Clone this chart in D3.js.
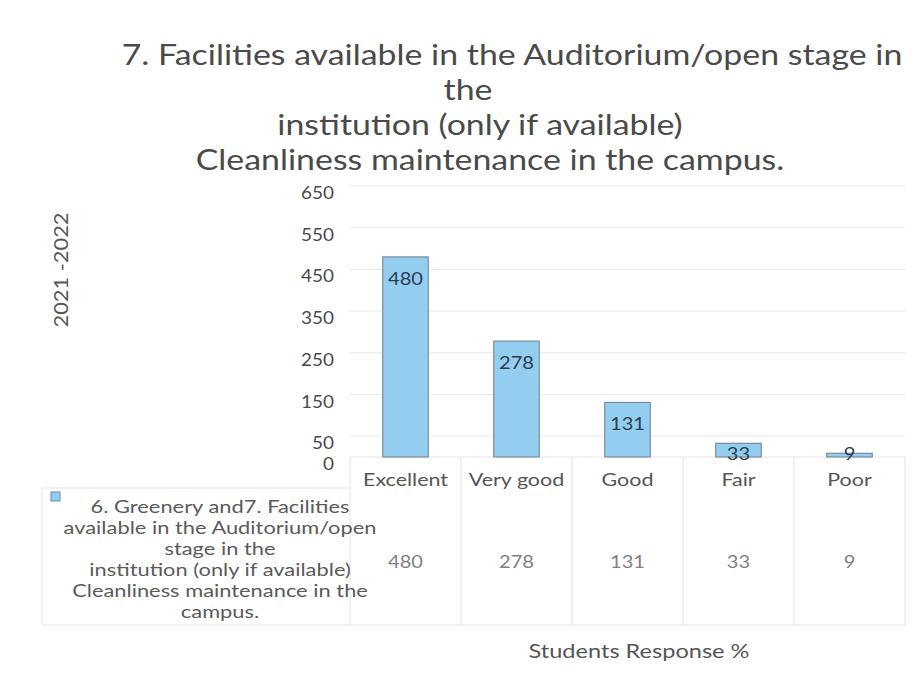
<!DOCTYPE html>
<html>
<head>
<meta charset="utf-8">
<script src="https://cdn.jsdelivr.net/npm/d3@7"></script>
<style>
  html, body { margin: 0; padding: 0; background: #fff; }
  svg { display: block; font-family: Lato, "Open Sans", sans-serif; }
</style>
</head>
<body>
<svg id="chart" width="919" height="674"></svg>
<script>
const titleLines = [
  "7. Facilities available in the Auditorium/open stage in",
  "the",
  "institution (only if available)",
  "Cleanliness maintenance in the campus."
];
const categories = ["Excellent", "Very good", "Good", "Fair", "Poor"];
const values = [480, 278, 131, 33, 9];
const tickValues = [0, 50, 150, 250, 350, 450, 550, 650];
const seriesName = [
  "6. Greenery and7. Facilities",
  "available in the Auditorium/open",
  "stage in the",
  "institution (only if available)",
  "Cleanliness maintenance in the",
  "campus."
];
const yAxisTitle = "2021 -2022";
const xAxisTitle = "Students Response %";

const svg = d3.select("#chart");
const textColor = "#4a4a4a";

// set font size, then widen the text horizontally so a reference text reaches a target width
function stretch(sel, size, refNode, target) {
  sel.attr("font-size", size);
  const sx = target / refNode.getComputedTextLength();
  sel.each(function () {
    const t = d3.select(this);
    const x = +t.attr("x") || 0, y = +t.attr("y") || 0;
    t.attr("x", 0).attr("y", 0).attr("transform", `translate(${x},${y}) scale(${sx},1)`);
  });
  return sx;
}

const plot = { left: 350, right: 905, top: 186, bottom: 457 };
const x = d3.scaleBand().domain(categories).range([plot.left, plot.right])
  .paddingInner(0.59).paddingOuter(0.295);
const y = d3.scaleLinear().domain([0, 650]).range([plot.bottom, plot.top]);

// Title
const titleX = [512, 468, 480, 490];
const titleY = [65, 100, 135, 170];
const title = svg.append("g").selectAll("text").data(titleLines).join("text")
  .attr("x", (d, i) => titleX[i]).attr("y", (d, i) => titleY[i])
  .attr("text-anchor", "middle").attr("fill", textColor)
  .text(d => d);
stretch(title, 29, title.nodes()[0], 781);

// Gridlines
svg.append("g").selectAll("line").data(tickValues).join("line")
  .attr("x1", plot.left).attr("x2", plot.right)
  .attr("y1", d => y(d)).attr("y2", d => y(d))
  .attr("stroke", "#e6e6e6").attr("stroke-width", 1);

// Y axis
const yAxis = d3.axisLeft(y).tickValues(tickValues).tickSize(0).tickPadding(16);
const yg = svg.append("g").attr("transform", `translate(${plot.left},0)`).call(yAxis);
yg.select(".domain").remove();
const yTicks = yg.selectAll("text").attr("fill", textColor)
  .attr("font-family", "Lato, sans-serif").attr("dy", "0.72em");
stretch(yTicks, 17.5, yTicks.nodes().find(n => n.textContent === "650"), 33);

// Bars
svg.append("g").selectAll("rect").data(values).join("rect")
  .attr("x", (d, i) => x(categories[i]))
  .attr("y", d => y(d))
  .attr("width", x.bandwidth())
  .attr("height", d => plot.bottom - y(d))
  .attr("fill", "#93cdf0")
  .attr("stroke", "#6a7e8e").attr("stroke-width", 1);

// Data labels
const dl = svg.append("g").selectAll("text").data(values).join("text")
  .attr("x", (d, i) => x(categories[i]) + x.bandwidth() / 2)
  .attr("y", d => Math.min(y(d) + 28, plot.bottom + 3))
  .attr("text-anchor", "middle").attr("fill", "#2d3e50")
  .text(d => d);
stretch(dl, 18, dl.nodes()[0], 35);

// Data table
const tableLeft = 42, tableTop = 488, tableBottom = 625;
const tg = svg.append("g").attr("stroke", "#e4e4e4").attr("stroke-width", 1);
tg.append("line").attr("x1", tableLeft).attr("x2", plot.right).attr("y1", tableBottom).attr("y2", tableBottom);
tg.append("line").attr("x1", tableLeft).attr("x2", plot.left).attr("y1", tableTop).attr("y2", tableTop);
tg.append("line").attr("x1", tableLeft).attr("x2", tableLeft).attr("y1", tableTop).attr("y2", tableBottom);
const bounds = [plot.left].concat(categories.map(c => x(c) - x.step() * x.paddingInner() / 2 + x.step()));
tg.selectAll("line.v").data(bounds).join("line").attr("class", "v")
  .attr("x1", d => d).attr("x2", d => d).attr("y1", plot.bottom).attr("y2", tableBottom);

// Category labels (header row)
const cats = svg.append("g").selectAll("text").data(categories).join("text")
  .attr("x", d => x(d) + x.bandwidth() / 2).attr("y", 486)
  .attr("text-anchor", "middle").attr("fill", "#555")
  .text(d => d);
stretch(cats, 18, cats.nodes()[0], 85);

// Values row
const vr = svg.append("g").selectAll("text").data(values).join("text")
  .attr("x", (d, i) => x(categories[i]) + x.bandwidth() / 2).attr("y", 568)
  .attr("text-anchor", "middle").attr("fill", "#808080")
  .text(d => d);
stretch(vr, 18, vr.nodes()[0], 35);

// Legend key + series name
svg.append("rect").attr("x", 51).attr("y", 492).attr("width", 9).attr("height", 9)
  .attr("fill", "#93cdf0").attr("stroke", "#6d8aa0").attr("stroke-width", 1);
const leg = svg.append("g").selectAll("text").data(seriesName).join("text")
  .attr("x", 220).attr("y", (d, i) => 513 + i * 21)
  .attr("text-anchor", "middle").attr("fill", "#5a5a5a")
  .text(d => d);
stretch(leg, 17, leg.nodes()[1], 313);

// Axis titles
const yt = svg.append("text").attr("text-anchor", "middle").attr("fill", "#555")
  .attr("font-size", 19).text(yAxisTitle);
const ysx = 115 / yt.node().getComputedTextLength();
yt.attr("transform", `translate(68,270) rotate(-90) scale(${ysx},1)`);

const xt = svg.append("text").attr("x", 639).attr("y", 658)
  .attr("text-anchor", "middle").attr("fill", "#555")
  .text(xAxisTitle);
stretch(xt, 19, xt.node(), 221);
</script>
</body>
</html>
